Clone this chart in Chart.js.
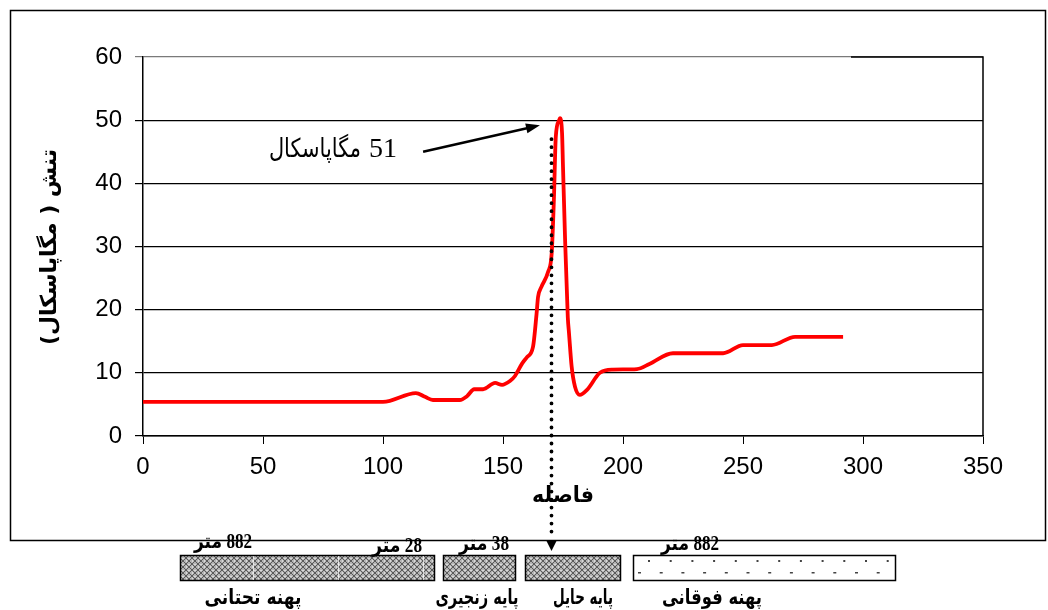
<!DOCTYPE html>
<html><head><meta charset="utf-8">
<script src="https://cdn.jsdelivr.net/npm/chart.js@4.4.1/dist/chart.umd.min.js"></script>
<style>html,body{margin:0;padding:0;background:#fff;}canvas{display:block;}</style>
</head><body>
<canvas id="c" width="1048" height="610"></canvas>
<script>
// ---- data ----
const distance = [0, 100, 113.7, 117.5, 120.8, 132, 135, 138, 141.7, 146.7, 149.6, 152.9, 155, 158, 160, 162.5, 164, 164.6, 166, 168.8, 170.3, 171.2, 172, 173.4, 173.7, 174.6, 175, 175.8, 177, 177.5, 178.6, 180, 182, 185, 190.4, 195.8, 205.8, 211, 220.8, 241.7, 250, 262, 271.7, 291.7];
const stress   = [5.4, 5.4, 6.8, 6.2, 5.7, 5.7, 6.3, 7.4, 7.4, 8.4, 8.1, 8.7, 9.5, 11.5, 12.5, 14.1, 19.4, 22, 23.6, 26, 29, 37.4, 47.4, 50, 50.3, 48, 42.6, 32, 18.8, 16.3, 11, 7.8, 6.5, 7.3, 10, 10.5, 10.6, 11.4, 13.1, 13.1, 14.4, 14.4, 15.7, 15.7];
const xTickStep = 50;
const yTickStep = 10;
const xRange = [0, 350];
const yRange = [0, 60];
const yAxisTitle = 'تنش ( مگاپاسکال)';
const xAxisTitle = 'فاصله';
const peakValue = '51';
const peakUnit = 'مگاپاسکال';
const markerDistance = 170;      // dotted marker position
const markerTopStress = 47;
const arrowFrom = [116.7, 45];   // annotation arrow (data units)
const arrowTo = [165.4, 49.2];
const labelAnchor = [105.8, 44.2];
const zoneNames = ['پهنه تحتانی', 'پایه زنجیری', 'پایه حایل', 'پهنه فوقانی'];
const zoneLengths = ['882 متر', '28 متر', '38 متر', '882 متر'];

// ---- schematic layout (pixels) ----
const zoneRects = [[180, 434], [443, 515], [525, 620], [633, 895]];
const zoneRectY = [555, 580];
const zoneNameX = [253, 477, 583, 712];
const zoneNameW = [97, 83, 60, 100];
const zoneLenPos = [[223, 543], [397, 547], [484, 545], [690, 545]];
const zoneLenW = [58, 50, 50, 58];

function hatchPattern(ctx) {
  const c = document.createElement('canvas');
  c.width = 6; c.height = 6;
  const g = c.getContext('2d');
  g.fillStyle = '#b4b4b4'; g.fillRect(0, 0, 6, 6);
  g.strokeStyle = '#5a5a5a'; g.lineWidth = 1;
  g.beginPath(); g.moveTo(0, 0); g.lineTo(6, 6); g.moveTo(6, 0); g.lineTo(0, 6); g.stroke();
  g.fillStyle = '#ffffff'; g.fillRect(2.5, 0, 1, 1); g.fillRect(0, 2.5, 1, 1);
  return ctx.createPattern(c, 'repeat');
}

const decor = {
  id: 'decor',
  afterDraw(chart) {
    const ctx = chart.ctx, xs = chart.scales.x, ys = chart.scales.y, a = chart.chartArea;
    ctx.save();
    // outer frame
    ctx.strokeStyle = '#000'; ctx.lineWidth = 1.5;
    ctx.strokeRect(10.5, 10.5, 1035, 530);
    // plot right border and top segment
    ctx.beginPath();
    ctx.moveTo(851, a.top); ctx.lineTo(a.right, a.top); ctx.lineTo(a.right, a.bottom);
    ctx.stroke();

    // dotted marker line
    const mx = Math.round(xs.getPixelForValue(markerDistance)) + 0.5;
    ctx.strokeStyle = '#000'; ctx.lineWidth = 3.8; ctx.lineCap = 'round';
    ctx.setLineDash([0.01, 8]);
    ctx.beginPath(); ctx.moveTo(mx, ys.getPixelForValue(markerTopStress)); ctx.lineTo(mx, 538); ctx.stroke();
    ctx.setLineDash([]); ctx.lineCap = 'butt';
    ctx.fillStyle = '#000';
    ctx.beginPath(); ctx.moveTo(mx - 5, 541); ctx.lineTo(mx + 5, 541); ctx.lineTo(mx, 551); ctx.closePath(); ctx.fill();

    // annotation arrow
    const x1 = xs.getPixelForValue(arrowFrom[0]), y1 = ys.getPixelForValue(arrowFrom[1]);
    const x2 = xs.getPixelForValue(arrowTo[0]), y2 = ys.getPixelForValue(arrowTo[1]);
    const ang = Math.atan2(y2 - y1, x2 - x1);
    ctx.lineWidth = 2.5;
    ctx.beginPath(); ctx.moveTo(x1, y1); ctx.lineTo(x2 - 10 * Math.cos(ang), y2 - 10 * Math.sin(ang)); ctx.stroke();
    ctx.beginPath();
    ctx.moveTo(x2, y2);
    ctx.lineTo(x2 - 14 * Math.cos(ang) + 5 * Math.sin(ang), y2 - 14 * Math.sin(ang) - 5 * Math.cos(ang));
    ctx.lineTo(x2 - 14 * Math.cos(ang) - 5 * Math.sin(ang), y2 - 14 * Math.sin(ang) + 5 * Math.cos(ang));
    ctx.closePath(); ctx.fill();

    // peak label: value then unit (right to left)
    const lx = xs.getPixelForValue(labelAnchor[0]), ly = ys.getPixelForValue(labelAnchor[1]);
    ctx.direction = 'rtl';
    ctx.textAlign = 'right'; ctx.textBaseline = 'alphabetic';
    ctx.font = '28px "Liberation Serif", "DejaVu Serif", serif';
    ctx.fillText(peakValue, lx, ly);
    const vw = ctx.measureText(peakValue).width;
    ctx.font = '26px "Liberation Serif", "DejaVu Sans", serif';
    ctx.fillText(peakUnit, lx - vw - 8, ly, 92);

    // axis titles
    ctx.font = 'bold 22px "DejaVu Sans", sans-serif';
    ctx.textAlign = 'center'; ctx.textBaseline = 'middle';
    ctx.fillText(xAxisTitle, (a.left + a.right) / 2, 496, 62);
    ctx.save();
    ctx.translate(50, 247);
    ctx.rotate(-Math.PI / 2);
    ctx.fillText(yAxisTitle, 0, 0, 196);
    ctx.restore();

    // schematic
    const pat = hatchPattern(ctx);
    zoneRects.forEach((r, i) => {
      const [l, rr] = r, t = zoneRectY[0], h = zoneRectY[1] - zoneRectY[0];
      if (i < 3) { ctx.fillStyle = pat; ctx.fillRect(l, t, rr - l, h); }
      else {
        ctx.fillStyle = '#fff'; ctx.fillRect(l, t, rr - l, h);
        ctx.fillStyle = '#444';
        for (let x = l + 15; x < rr - 4; x += 21.7) ctx.fillRect(x, t + 5, 2, 2);
        for (let x = l + 5; x < rr - 4; x += 21.7) ctx.fillRect(x, t + 17, 3, 1.5);
      }
      ctx.strokeStyle = '#000'; ctx.lineWidth = 1.5;
      ctx.strokeRect(l + 0.5, t + 0.5, rr - l, h);
    });
    ctx.strokeStyle = 'rgba(255,255,255,0.7)'; ctx.lineWidth = 1;
    [253, 338, 423].forEach(x => { ctx.beginPath(); ctx.moveTo(x + 0.5, zoneRectY[0] + 1); ctx.lineTo(x + 0.5, zoneRectY[1]); ctx.stroke(); });

    ctx.fillStyle = '#000';
    ctx.font = 'bold 21px "DejaVu Sans", sans-serif';
    ctx.textAlign = 'center'; ctx.textBaseline = 'middle';
    zoneNames.forEach((n, i) => ctx.fillText(n, zoneNameX[i], 599, zoneNameW[i]));
    ctx.font = 'bold 20px "Liberation Serif", "DejaVu Sans", serif';
    zoneLengths.forEach((n, i) => ctx.fillText(n, zoneLenPos[i][0], zoneLenPos[i][1], zoneLenW[i]));
    ctx.restore();
  }
};

const tickFont = { family: '"Liberation Sans", Arial, sans-serif', size: 24 };
new Chart(document.getElementById('c'), {
  type: 'line',
  data: {
    datasets: [{
      data: distance.map((x, i) => ({ x, y: stress[i] })),
      borderColor: '#ff0000', borderWidth: 3.8, pointRadius: 0,
      cubicInterpolationMode: 'monotone', fill: false
    }]
  },
  options: {
    responsive: false, animation: false, devicePixelRatio: 1,
    layout: { padding: { left: 10, right: 65, top: 57, bottom: 134 } },
    plugins: { legend: { display: false }, tooltip: { enabled: false } },
    scales: {
      x: {
        type: 'linear', min: xRange[0], max: xRange[1],
        ticks: { stepSize: xTickStep, color: '#000', font: tickFont, padding: 9, maxRotation: 0 },
        grid: { drawOnChartArea: false, color: '#000', tickLength: 8 },
        border: { color: '#000', width: 1.5 },
        afterFit(s) { s.height = 40; }
      },
      y: {
        min: yRange[0], max: yRange[1],
        ticks: { stepSize: yTickStep, color: '#000', font: tickFont, padding: 13 },
        grid: { color: c => (c.tick && c.tick.value === yRange[1]) ? '#7a7a7a' : '#000', tickLength: 8, lineWidth: 1.2 },
        border: { color: '#000', width: 1.5 },
        afterFit(s) { s.width = 133; }
      }
    }
  },
  plugins: [decor]
});
</script>
</body></html>
